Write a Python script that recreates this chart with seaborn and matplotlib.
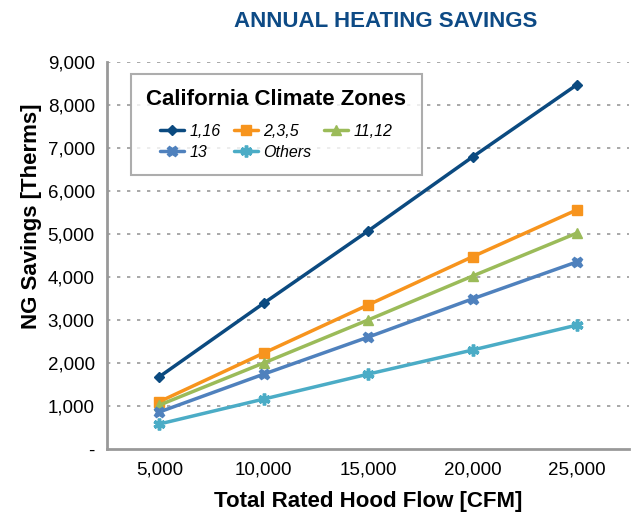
import numpy as np
import pandas as pd
import matplotlib
matplotlib.use("Agg")
import matplotlib.pyplot as plt
from matplotlib.ticker import FixedLocator, FuncFormatter
import seaborn as sns

#%% data
flows = ['5,000', '10,000', '15,000', '20,000', '25,000']
zones = ['1,16', '2,3,5', '11,12', '13', 'Others']
sav_1_16 = [1680, 3390, 5070, 6790, 8470]
sav_2_3_5 = [1100, 2230, 3350, 4470, 5560]
sav_11_12 = [1020, 2000, 3000, 4020, 5020]
sav_13 = [860, 1740, 2600, 3490, 4350]
sav_others = [580, 1160, 1740, 2300, 2880]

#%% long-form frame for seaborn
df = pd.DataFrame({
    'flow': flows * 5,
    'zone': np.repeat(zones, len(flows)),
    'savings': sav_1_16 + sav_2_3_5 + sav_11_12 + sav_13 + sav_others,
})
df['x'] = df['flow'].map({f: i for i, f in enumerate(flows)})

palette = {'1,16': '#0b4a80', '2,3,5': '#f7941d', '11,12': '#9bbb59',
           '13': '#4f81bd', 'Others': '#4bacc6'}
markers = {'1,16': 'D', '2,3,5': 's', '11,12': '^', '13': 'X', 'Others': (6, 2, 0)}
msize = {'1,16': 5.5, '2,3,5': 7.5, '11,12': 7, '13': 7.5, 'Others': 8.5}

sns.set_style('white')
plt.rcParams['font.family'] = ['Liberation Sans', 'DejaVu Sans']
plt.rcParams['text.color'] = 'black'
plt.rcParams['axes.labelcolor'] = 'black'

fig = plt.figure(figsize=(6.31, 5.16), dpi=100)
ax = fig.add_axes([0.170, 0.130, 0.827, 0.750])

for z in zones:
    sub = df[df['zone'] == z]
    sns.lineplot(data=sub, x='x', y='savings', ax=ax, color=palette[z],
                 marker=markers[z], markersize=msize[z], linewidth=2.5,
                 markeredgecolor=palette[z],
                 markeredgewidth=2.5 if z == 'Others' else 1, label=z)

ax.set_xlim(-0.5, 4.5)
ax.set_ylim(0, 9000)
ax.set_yticks(np.arange(0, 9001, 1000))
ax.yaxis.set_major_formatter(FuncFormatter(lambda v, p: '-' if v == 0 else f'{int(v):,}'))
ax.set_xticks(range(len(flows)))
ax.set_xticklabels(flows)
ax.xaxis.set_minor_locator(FixedLocator(np.arange(-0.5, 4.6, 1)))
ax.tick_params(axis='x', which='major', length=0, pad=9, labelsize=13.5, labelcolor='black')
ax.tick_params(axis='x', which='minor', length=5, width=1.5, color='#999999', direction='out')
ax.tick_params(axis='y', length=5, width=1.5, color='#999999', direction='out',
               labelsize=13.5, pad=4, labelcolor='black')

for yv in range(1000, 9001, 1000):
    ax.axhline(yv, color='#999999', linestyle=(0, (2, 4)), linewidth=1.2, zorder=0)

for s in ['top', 'right']:
    ax.spines[s].set_visible(False)
for s in ['left', 'bottom']:
    ax.spines[s].set_color('#999999')
    ax.spines[s].set_linewidth(2)

ax.set_xlabel('Total Rated Hood Flow [CFM]', fontsize=16, fontweight='bold', labelpad=9)
ax.set_ylabel('NG Savings [Therms]', fontsize=16, fontweight='bold', labelpad=4, y=0.60)

# legend, reordered so it fills row by row
h, l = ax.get_legend_handles_labels()
lut = dict(zip(l, h))
order = ['1,16', '13', '2,3,5', 'Others', '11,12']
leg = ax.legend([lut[o] for o in order], order, ncol=3, loc='upper left',
                bbox_to_anchor=(0.046, 0.969), borderaxespad=0,
                title='California Climate Zones',
                title_fontproperties={'weight': 'bold', 'size': 16},
                prop={'style': 'italic', 'size': 11.5}, frameon=True,
                fancybox=False, borderpad=0.95, handlelength=1.5,
                columnspacing=0.8, labelspacing=0.35, handletextpad=0.35)
leg.get_frame().set_edgecolor('#999999')
leg.get_frame().set_linewidth(1.5)
leg._legend_box.sep = 10

fig.text(0.612, 0.958, 'ANNUAL HEATING SAVINGS', ha='center', va='center',
         fontsize=16, fontweight='bold', color='#0d4a85')

fig.savefig('out.png', dpi=100)
